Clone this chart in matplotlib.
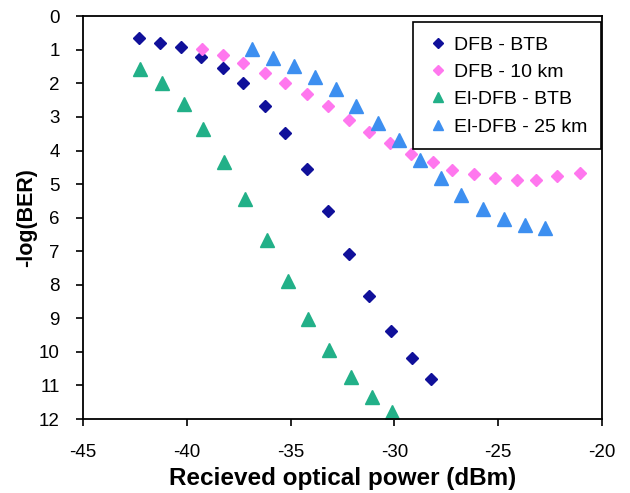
import matplotlib.pyplot as plt

plt.rcParams['font.family'] = ['Liberation Sans', 'DejaVu Sans']
plt.rcParams['axes.unicode_minus'] = False

# ***** DATA *****
# DFB - BTB
dfbBtbX = [-42.3, -41.3, -40.3, -39.3, -38.25, -37.3, -36.25, -35.25, -34.2, -33.2,
           -32.2, -31.2, -30.15, -29.15, -28.25]
dfbBtbY = [0.65, 0.79, 0.93, 1.21, 1.54, 1.99, 2.66, 3.49, 4.56, 5.81,
           7.09, 8.32, 9.38, 10.17, 10.81]

# DFB - 10 km
dfb10X = [-39.25, -38.25, -37.3, -36.25, -35.25, -34.2, -33.2, -32.2, -31.2, -30.2,
          -29.2, -28.15, -27.2, -26.15, -25.15, -24.1, -23.15, -22.15, -21.05]
dfb10Y = [0.98, 1.16, 1.39, 1.69, 1.99, 2.33, 2.68, 3.1, 3.44, 3.79,
          4.11, 4.35, 4.58, 4.7, 4.83, 4.88, 4.88, 4.75, 4.68]

# El-DFB - BTB
elBtbX = [-42.25, -41.2, -40.15, -39.2, -38.2, -37.2, -36.15, -35.1, -34.15, -33.15,
          -32.1, -31.05, -30.1]
elBtbY = [1.56, 2.0, 2.6, 3.37, 4.35, 5.45, 6.67, 7.88, 9.02, 9.94,
          10.75, 11.33, 11.8]

# El-DFB - 25 km
el25X = [-36.85, -35.85, -34.85, -33.8, -32.8, -31.85, -30.8, -29.75, -28.75, -27.75,
         -26.8, -25.7, -24.7, -23.7, -22.75]
el25Y = [0.99, 1.23, 1.49, 1.82, 2.18, 2.68, 3.19, 3.69, 4.29, 4.83,
         5.33, 5.75, 6.04, 6.22, 6.32]

xTicks = [-45, -40, -35, -30, -25, -20]
yTicks = list(range(0, 13))

# ***** GRAPHING *****
fig = plt.figure(figsize=(6.3, 4.93), dpi=100)
ax = fig.add_axes([0.132, 0.15, 0.823, 0.817])

ax.plot(dfbBtbX, dfbBtbY, linestyle='none', marker='D', markersize=6.2,
        color='#10109a', label='DFB - BTB')
ax.plot(dfb10X, dfb10Y, linestyle='none', marker='D', markersize=6.2,
        color='#ff77ee', label='DFB - 10 km')
ax.plot(elBtbX, elBtbY, linestyle='none', marker='^', markersize=10.5,
        color='#22b088', label='El-DFB - BTB')
ax.plot(el25X, el25Y, linestyle='none', marker='^', markersize=10.5,
        color='#3d8ff0', label='El-DFB - 25 km')

ax.set_xlim(-45, -20)
ax.set_ylim(12, 0)
ax.set_xticks(xTicks)
ax.set_yticks(yTicks)
ax.tick_params(direction='out', length=5, width=1.2, labelsize=13.5)
ax.tick_params(axis='x', pad=13)
ax.tick_params(axis='y', pad=12)

for s in ax.spines.values():
    s.set_linewidth(1.3)
    s.set_color('black')

ax.set_xlabel('Recieved optical power (dBm)', fontsize=17.5, fontweight='bold', labelpad=4)
ax.set_ylabel('-log(BER)', fontsize=15.5, fontweight='bold', labelpad=1)

leg = ax.legend(loc='upper right', bbox_to_anchor=(0.998, 0.985), borderaxespad=0,
                fontsize=14, markerscale=0.75, handletextpad=0.2, handlelength=1.2,
                labelspacing=0.5, borderpad=0.7, fancybox=False,
                edgecolor='black', framealpha=1)
leg.get_frame().set_linewidth(1.2)

fig.savefig('out.png', dpi=100)
